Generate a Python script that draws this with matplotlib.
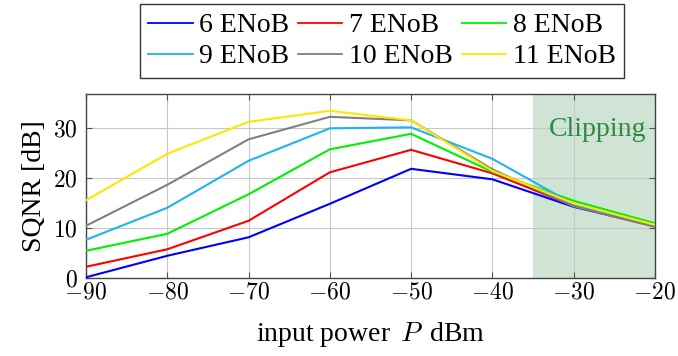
import matplotlib
matplotlib.use("Agg")
import matplotlib.pyplot as plt

plt.rcParams["font.family"] = "Liberation Serif"
plt.rcParams["mathtext.fontset"] = "cm"

power = [-90, -80, -70, -60, -50, -40, -30, -20]
labels = ["6 ENoB", "7 ENoB", "8 ENoB", "9 ENoB", "10 ENoB", "11 ENoB"]
colors = ["#0000ff", "#ff0000", "#00f000", "#1eb4f0", "#808080", "#ffe600"]

sqnr_6 = [0.2, 4.5, 8.2, 14.9, 21.9, 19.8, 14.3, 10.4]
sqnr_7 = [2.3, 5.8, 11.5, 21.2, 25.7, 21.0, 14.5, 10.5]
sqnr_8 = [5.5, 8.9, 16.8, 25.8, 28.9, 21.3, 15.5, 11.0]
sqnr_9 = [7.7, 14.1, 23.5, 30.0, 30.2, 23.9, 14.8, 10.6]
sqnr_10 = [10.5, 18.7, 27.8, 32.3, 31.6, 21.8, 14.4, 10.3]
sqnr_11 = [15.6, 24.9, 31.3, 33.5, 31.6, 21.5, 15.0, 10.7]
series = [sqnr_6, sqnr_7, sqnr_8, sqnr_9, sqnr_10, sqnr_11]

clip_start = -35

fig = plt.figure(figsize=(6.78, 3.56), dpi=100)
ax = fig.add_axes([0.1268, 0.2183, 0.8392, 0.5167])

ax.axvspan(clip_start, -20, color="#cfe4d4", zorder=0, lw=0)
ax.text(0.985, 0.81, "Clipping", transform=ax.transAxes, ha="right",
        va="center", fontsize=20, color="#2e8b3c")

lines = []
for y, c, lab in zip(series, colors, labels):
    ln, = ax.plot(power, y, color=c, lw=1.5, label=lab, zorder=3)
    lines.append(ln)

ax.set_xlim(-90, -20)
ax.set_ylim(0, 36.8)
ax.set_xticks(power)
ax.set_xticklabels([r"$%d$" % p for p in power])
ax.set_yticks([0, 10, 20, 30])
ax.set_yticklabels([r"$%d$" % v for v in [0, 10, 20, 30]])
ax.grid(True, color="#c8c8c8", lw=0.8, zorder=1)
ax.set_axisbelow(True)
ax.tick_params(direction="in", top=True, right=True, length=4,
               color="#555555", labelsize=17)
ax.tick_params(axis="x", pad=3)
ax.tick_params(axis="y", pad=6)
for s in ax.spines.values():
    s.set_color("#444444")
    s.set_linewidth(1.0)

ax.set_xlabel(r"input power $\,P\,$ dBm", fontsize=20, labelpad=12)
ax.set_ylabel("SQNR [dB]", fontsize=20, labelpad=4)

# row-wise legend order: matplotlib fills columns first
order = [0, 3, 1, 4, 2, 5]
leg = fig.legend([lines[i] for i in order], [labels[i] for i in order],
                 loc="center", bbox_to_anchor=(0.5634, 0.8848), ncol=3,
                 fontsize=20, frameon=True, fancybox=False, edgecolor="black",
                 handlelength=1.6, handletextpad=0.25, columnspacing=0.3,
                 borderpad=0.3, labelspacing=0.2)
leg.get_frame().set_linewidth(1.0)
for h in leg.get_lines():
    h.set_linewidth(1.3)

fig.savefig("out.png", dpi=100)
